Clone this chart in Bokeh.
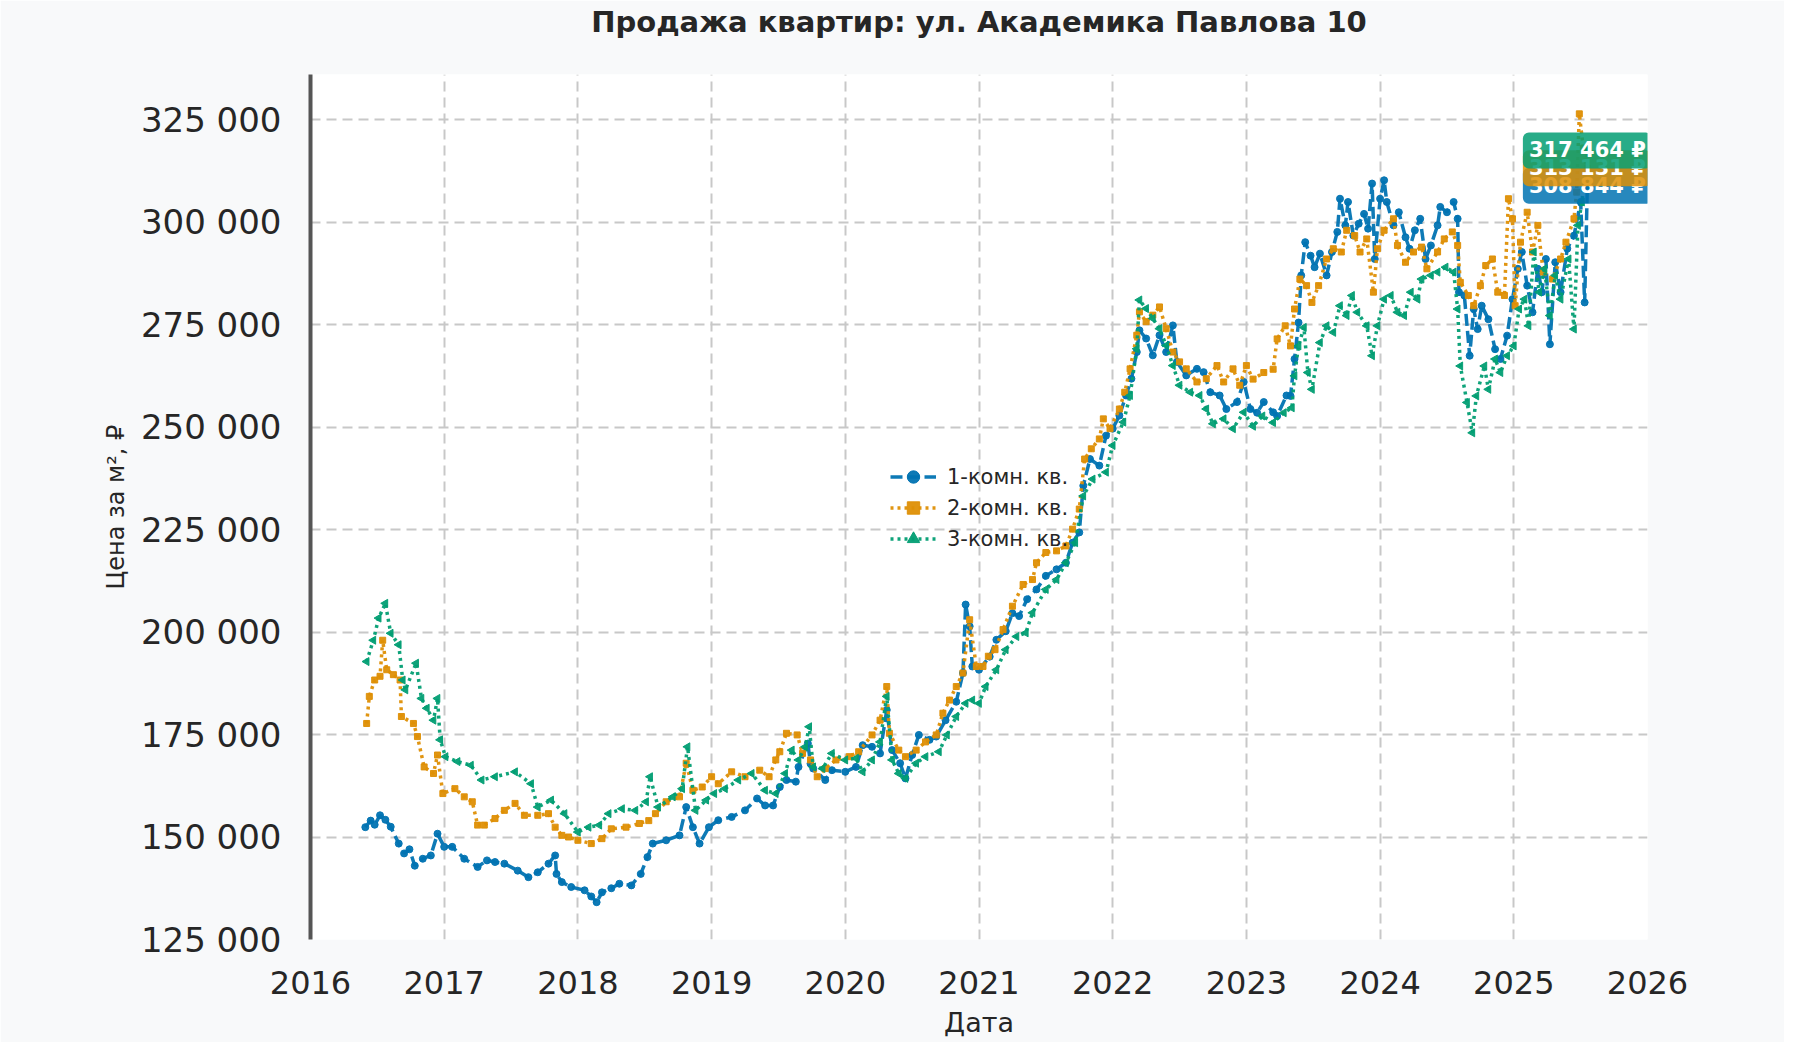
import math

from bokeh.plotting import figure
from bokeh.models import (ColumnDataSource, Range1d, FixedTicker, Label,
                          Legend, LegendItem, Title)
from bokeh.embed import file_html
from bokeh.resources import INLINE

FONT = "DejaVu Sans"

# --- data (decimal year, price in thousands of RUB per m2) ---
t_1k = [2016.41, 2016.45, 2016.48, 2016.52, 2016.56, 2016.60, 2016.66, 2016.70, 2016.74, 2016.78,
        2016.84, 2016.90, 2016.95, 2017.00, 2017.06, 2017.15, 2017.25, 2017.32, 2017.38, 2017.45,
        2017.55, 2017.63, 2017.70, 2017.78, 2017.83, 2017.84, 2017.88, 2017.95, 2018.05, 2018.10,
        2018.14, 2018.18, 2018.25, 2018.31, 2018.40, 2018.47, 2018.52, 2018.56, 2018.66, 2018.76,
        2018.81, 2018.86, 2018.91, 2018.98, 2019.05, 2019.15, 2019.25, 2019.34, 2019.40, 2019.46,
        2019.51, 2019.56, 2019.63, 2019.65, 2019.72, 2019.74, 2019.76, 2019.85, 2019.90, 2020.00,
        2020.08, 2020.13, 2020.20, 2020.26, 2020.31, 2020.35, 2020.41, 2020.45, 2020.50, 2020.55,
        2020.63, 2020.68, 2020.75, 2020.83, 2020.88, 2020.90, 2020.93, 2020.95, 2021.00, 2021.08,
        2021.13, 2021.20, 2021.25, 2021.30, 2021.36, 2021.43, 2021.50, 2021.58, 2021.65, 2021.70,
        2021.75, 2021.78, 2021.83, 2021.90, 2021.95, 2022.00, 2022.05, 2022.10, 2022.14, 2022.18,
        2022.20, 2022.25, 2022.30, 2022.35, 2022.40, 2022.45, 2022.48, 2022.55, 2022.63, 2022.68,
        2022.73, 2022.80, 2022.85, 2022.93, 2022.98, 2023.03, 2023.08, 2023.13, 2023.20, 2023.23,
        2023.30, 2023.33, 2023.36, 2023.39, 2023.41, 2023.44, 2023.48, 2023.51, 2023.55, 2023.60,
        2023.64, 2023.68, 2023.70, 2023.74, 2023.76, 2023.80, 2023.84, 2023.88, 2023.91, 2023.94,
        2023.96, 2024.00, 2024.03, 2024.05, 2024.10, 2024.14, 2024.19, 2024.22, 2024.26, 2024.30,
        2024.34, 2024.38, 2024.43, 2024.45, 2024.50, 2024.55, 2024.58, 2024.59, 2024.63, 2024.67,
        2024.70, 2024.73, 2024.76, 2024.81, 2024.86, 2024.90, 2024.95, 2024.99, 2025.03, 2025.06,
        2025.10, 2025.14, 2025.18, 2025.21, 2025.24, 2025.27, 2025.31, 2025.35, 2025.40, 2025.45,
        2025.50, 2025.53, 2025.55]
v_1k = [152.4, 154.0, 153.0, 155.3, 154.2, 152.5, 148.4, 146.0, 147.0, 143.0,
        144.7, 145.5, 150.8, 147.6, 147.6, 144.7, 142.7, 144.3, 143.9, 143.5,
        141.8, 140.2, 141.4, 143.5, 145.5, 141.0, 139.0, 137.8, 137.0, 135.5,
        134.1, 136.5, 137.5, 138.6, 138.2, 141.0, 145.1, 148.4, 149.2, 150.4,
        157.3, 152.4, 148.4, 152.4, 154.1, 154.9, 156.5, 159.4, 157.7, 157.7,
        162.2, 163.9, 163.5, 167.1, 172.8, 167.9, 166.7, 163.9, 166.3, 165.9,
        167.1, 172.4, 172.0, 170.4, 181.0, 171.2, 168.0, 164.3, 170.0, 174.9,
        173.7, 174.5, 178.5, 183.0, 190.0, 206.7, 201.4, 191.6, 190.8, 194.0,
        198.1, 200.2, 204.6, 203.9, 208.0, 210.4, 213.7, 215.3, 216.9, 221.8,
        224.3, 235.7, 242.2, 240.6, 247.9, 249.6, 252.8, 257.7, 261.8, 268.3,
        273.6, 271.6, 267.5, 272.4, 268.3, 274.8, 265.9, 262.6, 264.2, 263.4,
        258.5, 257.7, 254.4, 256.1, 261.0, 254.4, 253.5, 256.1, 253.6, 252.7,
        257.7, 257.6, 266.6, 275.5, 287.0, 295.1, 291.8, 289.0, 292.3, 287.0,
        292.7, 297.6, 305.7, 299.2, 304.9, 296.7, 299.6, 302.0, 298.4, 309.4,
        291.0, 305.7, 310.2, 304.9, 299.2, 302.4, 296.3, 293.5, 298.0, 300.8,
        291.0, 294.3, 299.2, 303.7, 302.4, 304.9, 300.8, 282.9, 282.1, 267.4,
        278.8, 273.9, 279.6, 276.3, 269.0, 266.6, 272.3, 281.2, 288.6, 292.7,
        284.5, 278.0, 288.6, 282.9, 291.0, 270.2, 290.2, 282.9, 293.5, 296.7,
        304.9, 280.4, 308.844]

t_2k = [2016.42, 2016.44, 2016.48, 2016.52, 2016.54, 2016.57, 2016.62, 2016.67, 2016.68, 2016.77,
        2016.80, 2016.85, 2016.92, 2016.95, 2016.99, 2017.08, 2017.15, 2017.21, 2017.25, 2017.30,
        2017.38, 2017.45, 2017.53, 2017.60, 2017.70, 2017.78, 2017.83, 2017.88, 2017.93, 2018.00,
        2018.10, 2018.18, 2018.25, 2018.36, 2018.46, 2018.53, 2018.58, 2018.66, 2018.76, 2018.81,
        2018.86, 2018.93, 2019.00, 2019.05, 2019.15, 2019.25, 2019.36, 2019.43, 2019.48, 2019.51,
        2019.56, 2019.64, 2019.68, 2019.74, 2019.79, 2019.85, 2019.93, 2020.03, 2020.10, 2020.20,
        2020.26, 2020.31, 2020.33, 2020.40, 2020.45, 2020.53, 2020.60, 2020.68, 2020.73, 2020.78,
        2020.83, 2020.88, 2020.93, 2020.98, 2021.03, 2021.07, 2021.12, 2021.18, 2021.25, 2021.33,
        2021.40, 2021.43, 2021.50, 2021.58, 2021.65, 2021.70, 2021.75, 2021.79, 2021.84, 2021.90,
        2021.93, 2021.98, 2022.05, 2022.09, 2022.13, 2022.18, 2022.20, 2022.25, 2022.30, 2022.35,
        2022.40, 2022.45, 2022.50, 2022.55, 2022.63, 2022.70, 2022.78, 2022.83, 2022.90, 2022.95,
        2023.00, 2023.05, 2023.13, 2023.20, 2023.23, 2023.29, 2023.33, 2023.36, 2023.40, 2023.45,
        2023.49, 2023.54, 2023.60, 2023.65, 2023.71, 2023.75, 2023.81, 2023.85, 2023.90, 2023.95,
        2023.98, 2024.03, 2024.10, 2024.13, 2024.19, 2024.25, 2024.31, 2024.35, 2024.43, 2024.48,
        2024.54, 2024.58, 2024.60, 2024.66, 2024.70, 2024.75, 2024.79, 2024.84, 2024.88, 2024.93,
        2024.96, 2024.99, 2025.01, 2025.05, 2025.10, 2025.14, 2025.18, 2025.22, 2025.29, 2025.35,
        2025.39, 2025.45, 2025.47, 2025.49, 2025.52, 2025.55]
v_2k = [177.7, 184.3, 188.3, 189.2, 198.0, 190.8, 189.6, 188.3, 179.4, 177.7,
        174.5, 167.1, 165.5, 170.0, 160.6, 161.8, 159.8, 158.6, 152.9, 152.9,
        154.5, 156.5, 158.2, 155.3, 155.3, 155.7, 152.4, 150.4, 150.0, 149.2,
        148.4, 149.6, 152.0, 152.4, 153.3, 154.0, 155.7, 158.6, 159.8, 168.0,
        161.4, 162.2, 164.7, 163.0, 165.9, 164.7, 166.3, 164.7, 168.8, 170.8,
        175.3, 174.9, 170.4, 168.8, 164.7, 166.7, 168.8, 169.6, 170.8, 174.9,
        178.5, 186.7, 175.3, 171.2, 169.6, 171.2, 173.2, 174.9, 180.2, 183.4,
        186.7, 190.0, 203.0, 191.6, 191.6, 194.1, 195.7, 200.6, 206.3, 211.6,
        212.8, 216.9, 219.4, 219.8, 221.0, 225.1, 230.0, 242.2, 244.7, 247.1,
        252.0, 249.6, 254.4, 258.5, 264.2, 272.4, 278.1, 275.7, 277.3, 279.3,
        274.0, 268.3, 265.9, 264.2, 261.0, 261.8, 265.0, 261.0, 264.2, 260.2,
        265.0, 261.7, 263.3, 264.1, 271.5, 274.7, 269.8, 278.8, 286.1, 284.5,
        280.4, 284.5, 291.0, 293.5, 292.7, 298.0, 296.7, 292.7, 295.9, 282.9,
        293.5, 298.0, 300.8, 294.3, 290.2, 292.7, 293.9, 288.6, 292.7, 295.9,
        297.6, 294.3, 285.3, 282.1, 279.6, 284.5, 289.4, 291.0, 282.9, 282.1,
        305.7, 300.8, 279.6, 295.1, 302.4, 292.7, 299.2, 287.8, 286.1, 291.0,
        295.1, 300.8, 307.3, 326.4, 318.0, 313.131]

t_3k = [2016.42, 2016.47, 2016.51, 2016.56, 2016.60, 2016.66, 2016.69, 2016.71, 2016.79, 2016.83,
        2016.87, 2016.92, 2016.95, 2016.97, 2017.01, 2017.10, 2017.20, 2017.28, 2017.38, 2017.53,
        2017.65, 2017.70, 2017.80, 2017.90, 2018.00, 2018.08, 2018.16, 2018.23, 2018.33, 2018.43,
        2018.51, 2018.54, 2018.60, 2018.71, 2018.78, 2018.82, 2018.88, 2018.96, 2019.02, 2019.10,
        2019.20, 2019.30, 2019.40, 2019.48, 2019.55, 2019.60, 2019.65, 2019.70, 2019.73, 2019.76,
        2019.83, 2019.90, 2020.00, 2020.08, 2020.13, 2020.20, 2020.26, 2020.31, 2020.35, 2020.40,
        2020.45, 2020.53, 2020.60, 2020.70, 2020.76, 2020.83, 2020.90, 2020.95, 2021.00, 2021.05,
        2021.13, 2021.20, 2021.28, 2021.35, 2021.40, 2021.50, 2021.58, 2021.65, 2021.72, 2021.78,
        2021.85, 2021.95, 2022.00, 2022.08, 2022.13, 2022.18, 2022.20, 2022.25, 2022.30, 2022.35,
        2022.40, 2022.45, 2022.50, 2022.58, 2022.65, 2022.70, 2022.75, 2022.83, 2022.90, 2022.98,
        2023.05, 2023.12, 2023.20, 2023.28, 2023.34, 2023.36, 2023.39, 2023.43, 2023.46, 2023.49,
        2023.55, 2023.60, 2023.65, 2023.70, 2023.75, 2023.79, 2023.83, 2023.90, 2023.94, 2023.98,
        2024.03, 2024.08, 2024.13, 2024.18, 2024.23, 2024.28, 2024.31, 2024.38, 2024.43, 2024.49,
        2024.55, 2024.58, 2024.60, 2024.65, 2024.69, 2024.72, 2024.78, 2024.81, 2024.86, 2024.90,
        2024.95, 2025.00, 2025.04, 2025.08, 2025.11, 2025.15, 2025.19, 2025.23, 2025.27, 2025.31,
        2025.35, 2025.41, 2025.45, 2025.48, 2025.51, 2025.55]
v_3k = [192.8, 198.0, 203.4, 207.0, 199.7, 196.9, 188.3, 185.9, 192.4, 183.8,
        181.4, 178.5, 183.8, 173.7, 169.6, 168.4, 167.5, 163.9, 164.7, 165.9,
        163.0, 157.3, 159.0, 155.7, 151.2, 152.4, 152.9, 155.7, 156.9, 156.5,
        158.6, 164.7, 157.3, 159.8, 161.8, 172.0, 156.5, 159.0, 160.6, 161.8,
        163.9, 165.5, 161.4, 160.6, 165.5, 171.2, 168.8, 172.0, 176.9, 167.1,
        166.7, 170.4, 168.8, 169.2, 165.9, 168.8, 173.2, 184.3, 168.8, 165.5,
        164.3, 168.0, 169.6, 170.8, 174.9, 179.4, 182.6, 183.4, 182.6, 186.7,
        190.8, 195.7, 198.9, 199.8, 204.7, 210.4, 212.8, 216.9, 221.8, 233.2,
        237.3, 239.0, 245.5, 251.2, 257.7, 269.1, 281.0, 278.9, 276.5, 274.0,
        269.9, 265.0, 260.2, 258.5, 257.7, 254.4, 250.8, 252.0, 249.6, 253.6,
        250.2, 252.7, 251.1, 253.5, 254.7, 262.5, 269.8, 274.3, 263.3, 259.2,
        270.6, 274.7, 273.1, 279.6, 277.2, 282.1, 278.0, 274.7, 267.4, 274.7,
        281.2, 282.1, 278.0, 277.2, 282.9, 281.2, 286.1, 287.0, 287.8, 289.0,
        287.8, 278.8, 264.9, 256.0, 248.6, 257.6, 264.9, 259.2, 266.6, 263.3,
        267.4, 269.8, 278.8, 281.2, 274.7, 292.7, 282.9, 288.6, 277.2, 287.0,
        281.2, 291.0, 273.9, 299.2, 304.9, 317.464]

labels = ["1-комн. кв.", "2-комн. кв.", "3-комн. кв."]
colors = ["#0173b2", "#de8f05", "#029e73"]
year_ticks = list(range(2016, 2027))
price_ticks = list(range(125000, 325001, 25000))
title = "Продажа квартир: ул. Академика Павлова 10"

p = figure(width=1784, height=1042, title=None,
           x_range=Range1d(2016, 2026), y_range=Range1d(125000, 336000),
           output_backend="svg", toolbar_location=None, tools="",
           min_border_left=310, min_border_right=137,
           min_border_top=0, min_border_bottom=103,
           background_fill_color="white", border_fill_color="#f8f9fa")
p.outline_line_color = None

#- blank spacer next to the frame, then the real title on top of it
p.add_layout(Title(text=" ", text_font=FONT, text_font_size="20px", standoff=8), "above")
p.add_layout(Title(text=title, align="center", text_font=FONT, text_font_size="29px",
                   text_font_style="bold", text_color="#262626", standoff=4), "above")

p.xaxis.ticker = FixedTicker(ticks=year_ticks)
p.xaxis.major_label_overrides = {y: str(y) for y in year_ticks}
p.yaxis.ticker = FixedTicker(ticks=price_ticks)
p.yaxis.major_label_overrides = {v: "{:,}".format(v).replace(",", " ") for v in price_ticks}

for ax in (p.xaxis, p.yaxis):
    ax.major_tick_line_color = None
    ax.minor_tick_line_color = None
    ax.major_label_text_font = FONT
    ax.major_label_text_color = "#262626"
    ax.axis_label_text_font = FONT
    ax.axis_label_text_font_style = "normal"
    ax.axis_label_text_color = "#262626"

p.xaxis.axis_line_color = None
p.xaxis.major_label_text_font_size = "32px"
p.xaxis.major_label_standoff = 25
p.xaxis.axis_label = "Дата"
p.xaxis.axis_label_text_font_size = "27px"
p.xaxis.axis_label_standoff = 10

p.yaxis.axis_line_color = "#555555"
p.yaxis.axis_line_width = 4
p.yaxis.major_label_text_font_size = "34px"
p.yaxis.major_label_standoff = 23
p.yaxis.axis_label = "Цена за м², ₽"
p.yaxis.axis_label_text_font_size = "24px"
p.yaxis.axis_label_standoff = 8

for g in (p.xgrid, p.ygrid):
    g.grid_line_color = "#c8c8c8"
    g.grid_line_width = 2
    g.grid_line_dash = "10 6"

series = [(t_1k, v_1k, "circle", 7, "12 5"),
          (t_2k, v_2k, "square", 6, "3 4"),
          (t_3k, v_3k, "triangle", 8, "3 4")]

items = []
last_points = []
for (t, v, marker, size, dash), label, color in zip(series, labels, colors):
    src = ColumnDataSource(data=dict(x=t, y=[k * 1000 for k in v]))
    ln = p.line("x", "y", source=src, line_color=color, line_width=3.5,
                line_dash=dash, line_alpha=0.95)
    sc = p.scatter("x", "y", source=src, marker=marker, size=size,
                   angle=math.pi / 2 if marker == "triangle" else 0,
                   fill_color=color, line_color=color, alpha=0.95)
    items.append(LegendItem(label=label, renderers=[ln, sc]))
    last_points.append((t[-1], v[-1] * 1000, color))

legend = Legend(items=items, location=(580, 385), padding=0, margin=0,
                spacing=0, glyph_width=46, glyph_height=31, label_height=31,
                label_standoff=11, label_text_font=FONT,
                label_text_font_size="21px", label_text_color="#262626",
                background_fill_alpha=0, border_line_alpha=0)
p.add_layout(legend, "center")

#- end-of-series price tags
for x, y, color in last_points:
    txt = "{:,}".format(round(y)).replace(",", " ") + " ₽"
    p.add_layout(Label(x=x, y=y, text=txt, text_align="center",
                       text_baseline="middle", text_color="white",
                       text_font=FONT, text_font_style="bold",
                       text_font_size="21px",
                       background_fill_color=color, background_fill_alpha=0.85,
                       padding=6, border_radius=6))

open("out.html", "w").write(file_html(p, INLINE))
